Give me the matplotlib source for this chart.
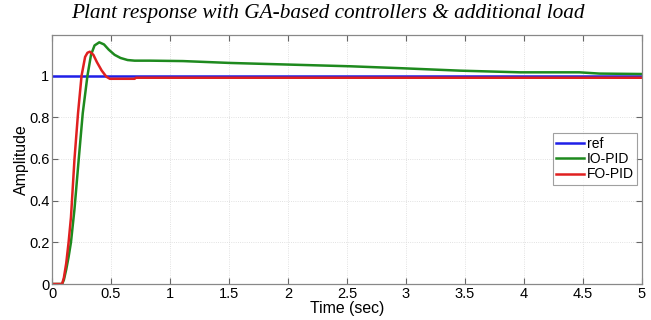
import matplotlib
matplotlib.use("Agg")
import matplotlib.pyplot as plt

# ── Data ─────────────────────────────────────────────────────────────────────
ref_t = [0.0, 5.0]
ref_y = [1.0, 1.0]

io_t = [0.0, 0.085, 0.10, 0.12, 0.14, 0.16, 0.19, 0.226, 0.26, 0.30, 0.33, 0.36,
        0.40, 0.44, 0.48, 0.53, 0.58, 0.64, 0.70, 0.83, 1.11, 1.51, 2.02, 2.53,
        2.95, 3.46, 3.97, 4.47, 4.64, 5.0]
io_y = [0.0, 0.0, 0.02, 0.07, 0.13, 0.20, 0.36, 0.60, 0.82, 1.00, 1.10, 1.145,
        1.16, 1.15, 1.125, 1.10, 1.085, 1.075, 1.072, 1.072, 1.07, 1.061, 1.053, 1.045,
        1.036, 1.024, 1.016, 1.016, 1.01, 1.008]

fo_t = [0.0, 0.085, 0.10, 0.12, 0.14, 0.16, 0.19, 0.22, 0.25, 0.28, 0.30, 0.32,
        0.35, 0.38, 0.42, 0.46, 0.49, 0.55, 0.70, 0.71, 1.0, 2.0, 3.0, 4.0, 5.0]
fo_y = [0.0, 0.0, 0.03, 0.10, 0.20, 0.32, 0.60, 0.82, 1.00, 1.09, 1.11, 1.115,
        1.10, 1.065, 1.025, 0.995, 0.985, 0.985, 0.985, 0.99, 0.99, 0.99, 0.99, 0.99, 0.99]

labels = ["ref", "IO-PID", "FO-PID"]
colors = ["#1f1fe8", "#1e8a1e", "#e02020"]

# ── Figure ───────────────────────────────────────────────────────────────────
fig = plt.figure(figsize=(6.51, 3.2), dpi=100)
ax = fig.add_axes([0.080, 0.1125, 0.906, 0.778])

for (t, y), lab, c in zip([(ref_t, ref_y), (io_t, io_y), (fo_t, fo_y)], labels, colors):
    ax.plot(t, y, color=c, lw=1.8, label=lab)

ax.set_xlim(0, 5)
ax.set_ylim(0, 1.195)
ax.set_xticks([0, 0.5, 1, 1.5, 2, 2.5, 3, 3.5, 4, 4.5, 5])
ax.set_xticklabels(["0", "0.5", "1", "1.5", "2", "2.5", "3", "3.5", "4", "4.5", "5"])
ax.set_yticks([0, 0.2, 0.4, 0.6, 0.8, 1])
ax.set_yticklabels(["0", "0.2", "0.4", "0.6", "0.8", "1"])
ax.tick_params(direction="in", top=True, right=True, length=4, color="#666666",
               labelsize=10.5)
ax.tick_params(axis="y", pad=2)
ax.tick_params(axis="x", pad=2)
for lab in ax.get_xticklabels() + ax.get_yticklabels():
    lab.set_family("Liberation Sans")
ax.grid(True, color="#d8d8d8", lw=0.6, ls=":")
for s in ax.spines.values():
    s.set_color("#888888")
    s.set_linewidth(0.9)

ax.set_xlabel("Time (sec)", family="Liberation Sans", fontsize=11.4, labelpad=0)
ax.set_ylabel("Amplitude", family="Liberation Sans", fontsize=11.4, labelpad=0)
# title sits a bit left of the axes centre in the original
fig.text(0.503, 0.958, "Plant response with GA-based controllers & additional load",
         family="Liberation Serif", style="italic", fontsize=15.3,
         ha="center", va="center")

leg = ax.legend(loc="lower right", bbox_to_anchor=(0.992, 0.398), frameon=True,
                fancybox=False, prop={"family": "Liberation Sans", "size": 10},
                handlelength=2.0, handletextpad=0.2, borderpad=0.25, labelspacing=0.1,
                borderaxespad=0)
leg.get_frame().set_edgecolor("#888888")
leg.get_frame().set_linewidth(0.8)

fig.savefig("out.png", dpi=100)
